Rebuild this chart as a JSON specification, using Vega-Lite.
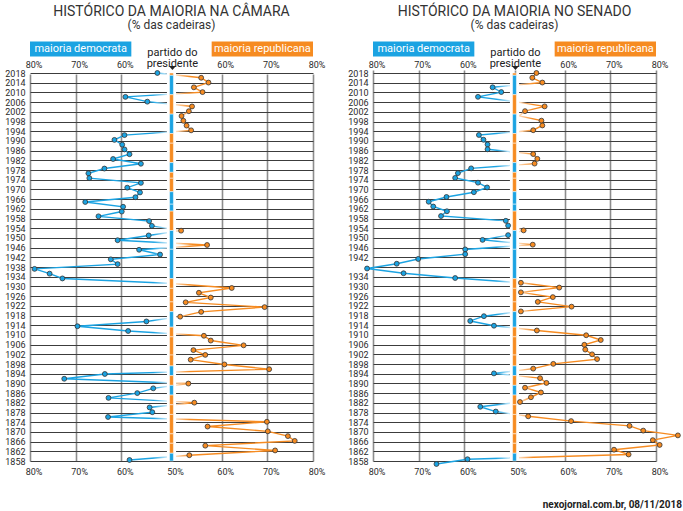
{
  "$schema": "https://vega.github.io/schema/vega-lite/v6.json",
  "padding": {"left": 4, "top": 5, "right": 2, "bottom": 2},
  "datasets": {
    "camara": [
      {"ano": 2018, "partido": "D", "pct": 52.1}, {"ano": 2016, "partido": "R", "pct": 55.5},
      {"ano": 2014, "partido": "R", "pct": 57.1}, {"ano": 2012, "partido": "R", "pct": 53.9},
      {"ano": 2010, "partido": "R", "pct": 55.8}, {"ano": 2008, "partido": "D", "pct": 59.1},
      {"ano": 2006, "partido": "D", "pct": 54.3}, {"ano": 2004, "partido": "R", "pct": 53.5},
      {"ano": 2002, "partido": "R", "pct": 52.8}, {"ano": 2000, "partido": "R", "pct": 51.2},
      {"ano": 1998, "partido": "R", "pct": 51.6}, {"ano": 1996, "partido": "R", "pct": 52.3},
      {"ano": 1994, "partido": "R", "pct": 53.3}, {"ano": 1992, "partido": "D", "pct": 59.3},
      {"ano": 1990, "partido": "D", "pct": 61.5}, {"ano": 1988, "partido": "D", "pct": 59.8},
      {"ano": 1986, "partido": "D", "pct": 59.3}, {"ano": 1984, "partido": "D", "pct": 58.2},
      {"ano": 1982, "partido": "D", "pct": 61.8}, {"ano": 1980, "partido": "D", "pct": 55.7},
      {"ano": 1978, "partido": "D", "pct": 63.7}, {"ano": 1976, "partido": "D", "pct": 67.2},
      {"ano": 1974, "partido": "D", "pct": 67.0}, {"ano": 1972, "partido": "D", "pct": 55.7},
      {"ano": 1970, "partido": "D", "pct": 58.7}, {"ano": 1968, "partido": "D", "pct": 55.9},
      {"ano": 1966, "partido": "D", "pct": 56.9}, {"ano": 1964, "partido": "D", "pct": 67.9},
      {"ano": 1962, "partido": "D", "pct": 59.6}, {"ano": 1960, "partido": "D", "pct": 59.9},
      {"ano": 1958, "partido": "D", "pct": 65.0}, {"ano": 1956, "partido": "D", "pct": 53.9},
      {"ano": 1954, "partido": "D", "pct": 53.3}, {"ano": 1952, "partido": "R", "pct": 51.1},
      {"ano": 1950, "partido": "D", "pct": 54.0}, {"ano": 1948, "partido": "D", "pct": 60.8},
      {"ano": 1946, "partido": "R", "pct": 56.8}, {"ano": 1944, "partido": "D", "pct": 56.1},
      {"ano": 1942, "partido": "D", "pct": 51.5}, {"ano": 1940, "partido": "D", "pct": 62.3},
      {"ano": 1938, "partido": "D", "pct": 60.8}, {"ano": 1936, "partido": "D", "pct": 79.0},
      {"ano": 1934, "partido": "D", "pct": 75.7}, {"ano": 1932, "partido": "D", "pct": 72.9},
      {"ano": 1930, "partido": "D", "pct": 49.9}, {"ano": 1928, "partido": "R", "pct": 62.2},
      {"ano": 1926, "partido": "R", "pct": 55.0}, {"ano": 1924, "partido": "R", "pct": 57.6},
      {"ano": 1922, "partido": "R", "pct": 52.1}, {"ano": 1920, "partido": "R", "pct": 69.4},
      {"ano": 1918, "partido": "R", "pct": 55.5}, {"ano": 1916, "partido": "R", "pct": 50.9},
      {"ano": 1914, "partido": "D", "pct": 54.5}, {"ano": 1912, "partido": "D", "pct": 69.6},
      {"ano": 1910, "partido": "D", "pct": 58.5}, {"ano": 1908, "partido": "R", "pct": 56.1},
      {"ano": 1906, "partido": "R", "pct": 57.6}, {"ano": 1904, "partido": "R", "pct": 64.8},
      {"ano": 1902, "partido": "R", "pct": 53.8}, {"ano": 1900, "partido": "R", "pct": 56.4},
      {"ano": 1898, "partido": "R", "pct": 53.2}, {"ano": 1896, "partido": "R", "pct": 60.6},
      {"ano": 1894, "partido": "R", "pct": 70.4}, {"ano": 1892, "partido": "D", "pct": 63.6},
      {"ano": 1890, "partido": "D", "pct": 72.5}, {"ano": 1888, "partido": "R", "pct": 52.7},
      {"ano": 1886, "partido": "D", "pct": 53.0}, {"ano": 1884, "partido": "D", "pct": 56.5},
      {"ano": 1882, "partido": "D", "pct": 62.8}, {"ano": 1880, "partido": "R", "pct": 54.0},
      {"ano": 1878, "partido": "D", "pct": 53.8}, {"ano": 1876, "partido": "D", "pct": 53.2},
      {"ano": 1874, "partido": "D", "pct": 62.9}, {"ano": 1872, "partido": "R", "pct": 69.9},
      {"ano": 1870, "partido": "R", "pct": 56.9}, {"ano": 1868, "partido": "R", "pct": 70.1},
      {"ano": 1866, "partido": "R", "pct": 74.5}, {"ano": 1864, "partido": "R", "pct": 76.0},
      {"ano": 1862, "partido": "R", "pct": 56.4}, {"ano": 1860, "partido": "R", "pct": 71.7},
      {"ano": 1858, "partido": "R", "pct": 52.9}, {"ano": 1856, "partido": "D", "pct": 58.2}
    ],
    "senado": [
      {"ano": 2018, "partido": "R", "pct": 53.8}, {"ano": 2016, "partido": "R", "pct": 52.9},
      {"ano": 2014, "partido": "R", "pct": 55.1}, {"ano": 2012, "partido": "D", "pct": 53.8},
      {"ano": 2010, "partido": "D", "pct": 51.9}, {"ano": 2008, "partido": "D", "pct": 57.0},
      {"ano": 2006, "partido": "D", "pct": 49.0}, {"ano": 2004, "partido": "R", "pct": 55.6},
      {"ano": 2002, "partido": "R", "pct": 51.3}, {"ano": 2000, "partido": "R", "pct": 50.0},
      {"ano": 1998, "partido": "R", "pct": 54.9}, {"ano": 1996, "partido": "R", "pct": 55.1},
      {"ano": 1994, "partido": "R", "pct": 53.1}, {"ano": 1992, "partido": "D", "pct": 56.8},
      {"ano": 1990, "partido": "D", "pct": 55.8}, {"ano": 1988, "partido": "D", "pct": 54.9},
      {"ano": 1986, "partido": "D", "pct": 54.9}, {"ano": 1984, "partido": "R", "pct": 53.1},
      {"ano": 1982, "partido": "R", "pct": 54.0}, {"ano": 1980, "partido": "R", "pct": 53.4},
      {"ano": 1978, "partido": "D", "pct": 58.5}, {"ano": 1976, "partido": "D", "pct": 61.4},
      {"ano": 1974, "partido": "D", "pct": 62.0}, {"ano": 1972, "partido": "D", "pct": 57.0},
      {"ano": 1970, "partido": "D", "pct": 55.0}, {"ano": 1968, "partido": "D", "pct": 57.9},
      {"ano": 1966, "partido": "D", "pct": 63.9}, {"ano": 1964, "partido": "D", "pct": 67.8},
      {"ano": 1962, "partido": "D", "pct": 66.8}, {"ano": 1960, "partido": "D", "pct": 63.8},
      {"ano": 1958, "partido": "D", "pct": 65.1}, {"ano": 1956, "partido": "D", "pct": 50.9},
      {"ano": 1954, "partido": "D", "pct": 50.4}, {"ano": 1952, "partido": "R", "pct": 51.0},
      {"ano": 1950, "partido": "D", "pct": 50.4}, {"ano": 1948, "partido": "D", "pct": 56.0},
      {"ano": 1946, "partido": "R", "pct": 53.0}, {"ano": 1944, "partido": "D", "pct": 59.8},
      {"ano": 1942, "partido": "D", "pct": 59.8}, {"ano": 1940, "partido": "D", "pct": 70.1},
      {"ano": 1938, "partido": "D", "pct": 74.8}, {"ano": 1936, "partido": "D", "pct": 81.3},
      {"ano": 1934, "partido": "D", "pct": 73.3}, {"ano": 1932, "partido": "D", "pct": 62.0},
      {"ano": 1930, "partido": "R", "pct": 50.4}, {"ano": 1928, "partido": "R", "pct": 58.8},
      {"ano": 1926, "partido": "R", "pct": 50.4}, {"ano": 1924, "partido": "R", "pct": 57.4},
      {"ano": 1922, "partido": "R", "pct": 54.1}, {"ano": 1920, "partido": "R", "pct": 61.5},
      {"ano": 1918, "partido": "R", "pct": 50.4}, {"ano": 1916, "partido": "D", "pct": 55.7},
      {"ano": 1914, "partido": "D", "pct": 58.7}, {"ano": 1912, "partido": "D", "pct": 53.5},
      {"ano": 1910, "partido": "R", "pct": 53.9}, {"ano": 1908, "partido": "R", "pct": 64.7},
      {"ano": 1906, "partido": "R", "pct": 67.9}, {"ano": 1904, "partido": "R", "pct": 64.3},
      {"ano": 1902, "partido": "R", "pct": 64.5}, {"ano": 1900, "partido": "R", "pct": 66.0},
      {"ano": 1898, "partido": "R", "pct": 67.1}, {"ano": 1896, "partido": "R", "pct": 57.5},
      {"ano": 1894, "partido": "R", "pct": 53.1}, {"ano": 1892, "partido": "D", "pct": 53.5},
      {"ano": 1890, "partido": "R", "pct": 54.6}, {"ano": 1888, "partido": "R", "pct": 56.0},
      {"ano": 1886, "partido": "R", "pct": 51.3}, {"ano": 1884, "partido": "R", "pct": 54.8},
      {"ano": 1882, "partido": "R", "pct": 52.6}, {"ano": 1880, "partido": "R", "pct": 50.2},
      {"ano": 1878, "partido": "D", "pct": 56.5}, {"ano": 1877, "partido": "D", "pct": 53.1},
      {"ano": 1876, "partido": "R", "pct": 52.0}, {"ano": 1874, "partido": "R", "pct": 61.4},
      {"ano": 1872, "partido": "R", "pct": 74.2}, {"ano": 1870, "partido": "R", "pct": 77.2},
      {"ano": 1868, "partido": "R", "pct": 84.8}, {"ano": 1866, "partido": "R", "pct": 79.3},
      {"ano": 1864, "partido": "R", "pct": 80.8}, {"ano": 1862, "partido": "R", "pct": 70.8},
      {"ano": 1860, "partido": "R", "pct": 74.0}, {"ano": 1858, "partido": "D", "pct": 59.3},
      {"ano": 1856, "partido": "D", "pct": 66.1}
    ],
    "presidentes": [
      {"presidente": "Trump", "partido": "R", "inicio": 2017.05, "fim": 2018},
      {"presidente": "Obama", "partido": "D", "inicio": 2009.05, "fim": 2017.05},
      {"presidente": "G. W. Bush", "partido": "R", "inicio": 2001.05, "fim": 2009.05},
      {"presidente": "Clinton", "partido": "D", "inicio": 1993.05, "fim": 2001.05},
      {"presidente": "G. H. W. Bush", "partido": "R", "inicio": 1989.05, "fim": 1993.05},
      {"presidente": "Reagan", "partido": "R", "inicio": 1981.05, "fim": 1989.05},
      {"presidente": "Carter", "partido": "D", "inicio": 1977.05, "fim": 1981.05},
      {"presidente": "Ford", "partido": "R", "inicio": 1974.6, "fim": 1977.05},
      {"presidente": "Nixon", "partido": "R", "inicio": 1969.05, "fim": 1974.6},
      {"presidente": "L. B. Johnson", "partido": "D", "inicio": 1963.9, "fim": 1969.05},
      {"presidente": "Kennedy", "partido": "D", "inicio": 1961.05, "fim": 1963.9},
      {"presidente": "Eisenhower", "partido": "R", "inicio": 1953.05, "fim": 1961.05},
      {"presidente": "Truman", "partido": "D", "inicio": 1945.3, "fim": 1953.05},
      {"presidente": "F. D. Roosevelt", "partido": "D", "inicio": 1933.2, "fim": 1945.3},
      {"presidente": "Hoover", "partido": "R", "inicio": 1929.2, "fim": 1933.2},
      {"presidente": "Coolidge", "partido": "R", "inicio": 1923.6, "fim": 1929.2},
      {"presidente": "Harding", "partido": "R", "inicio": 1919.6, "fim": 1923.6},
      {"presidente": "Wilson", "partido": "D", "inicio": 1913.2, "fim": 1919.6},
      {"presidente": "Taft", "partido": "R", "inicio": 1909.2, "fim": 1913.2},
      {"presidente": "T. Roosevelt", "partido": "R", "inicio": 1901.7, "fim": 1909.2},
      {"presidente": "McKinley", "partido": "R", "inicio": 1897.2, "fim": 1901.7},
      {"presidente": "Cleveland", "partido": "D", "inicio": 1893.2, "fim": 1897.2},
      {"presidente": "B. Harrison", "partido": "R", "inicio": 1889.2, "fim": 1893.2},
      {"presidente": "Cleveland", "partido": "D", "inicio": 1885.2, "fim": 1889.2},
      {"presidente": "Garfield / Arthur", "partido": "R", "inicio": 1881.2, "fim": 1885.2},
      {"presidente": "Hayes", "partido": "R", "inicio": 1877.2, "fim": 1881.2},
      {"presidente": "Grant", "partido": "R", "inicio": 1869.2, "fim": 1877.2},
      {"presidente": "A. Johnson", "partido": "R", "inicio": 1865.3, "fim": 1869.2},
      {"presidente": "Lincoln", "partido": "R", "inicio": 1861.2, "fim": 1865.3},
      {"presidente": "Buchanan", "partido": "D", "inicio": 1858, "fim": 1861.2}
    ],
    "um": [{}]
  },
  "title": {
    "text": "nexojornal.com.br, 08/11/2018",
    "orient": "bottom", "anchor": "end", "frame": "bounds",
    "fontSize": 10, "fontWeight": "bold", "color": "#222", "offset": 24
  },
  "spacing": 60,
  "bounds": "flush",
  "resolve": {"scale": {"x": "independent", "y": "independent"}},
  "hconcat": [
    {
      "width": 283,
      "height": 388,
      "title": {"text": "HISTÓRICO DA MAIORIA NA CÂMARA", "subtitle": "(% das cadeiras)"},
      "resolve": {"scale": {"y": "independent"}, "axis": {"x": "independent", "y": "independent"}},
      "layer": [
        {
          "data": {"name": "camara"},
          "transform": [{"calculate": "datum.partido == 'D' ? 49 - datum.pct : (datum.partido == 'R' ? datum.pct - 49 : 0)", "as": "pos"}],
          "mark": {
            "type": "line", "strokeWidth": 1.4,
            "stroke": {
              "gradient": "linear", "x1": 0, "x2": 1, "y1": 0, "y2": 0,
              "stops": [
                {"offset": 0, "color": "#1ba3e2"}, {"offset": 0.4561, "color": "#1ba3e2"},
                {"offset": 0.5088, "color": "#c4e7f8"}, {"offset": 0.5263, "color": "#ffffff"},
                {"offset": 0.5439, "color": "#fddcbd"}, {"offset": 0.5965, "color": "#f68b21"},
                {"offset": 1, "color": "#f68b21"}
              ]
            }
          },
          "encoding": {
            "x": {
              "field": "pos", "type": "quantitative",
              "scale": {"domain": [-31, 31], "nice": false, "zero": false},
              "axis": {
                "orient": "bottom", "title": null, "values": [-31, -21, -11, 0, 11, 21, 31],
                "labelExpr": "datum.value == 0 ? '50%' : (abs(datum.value) + 49) + '%'",
                "grid": true, "gridColor": "#8c8c8c", "gridWidth": 1.6,
                "domain": false, "ticks": false, "labelPadding": 6, "labelOffset": 3.5, "labelFlush": false
              }
            },
            "y": {"field": "ano", "type": "ordinal", "sort": "descending", "scale": {"type": "point", "padding": 0, "range": [0, 387]}, "axis": null},
            "order": {"field": "ano", "type": "quantitative"}
          }
        },
        {
          "data": {"name": "um"},
          "mark": {"type": "rect", "color": "#ffffff"},
          "encoding": {
            "x": {"datum": -1, "type": "quantitative", "scale": {"domain": [-31, 31], "nice": false, "zero": false}, "axis": null},
            "x2": {"datum": 1}
          }
        },
        {
          "data": {"name": "presidentes"},
          "mark": {"type": "rect", "stroke": "#ffffff", "strokeWidth": 0.5},
          "encoding": {
            "x": {"datum": -0.42, "type": "quantitative", "scale": {"domain": [-31, 31], "nice": false, "zero": false}, "axis": null},
            "x2": {"datum": 0.42},
            "y": {
              "field": "inicio", "type": "quantitative",
              "scale": {"domain": [1858, 2018], "nice": false, "zero": false},
              "axis": {
                "orient": "left", "title": null,
                "values": [2018, 2014, 2010, 2006, 2002, 1998, 1994, 1990, 1986, 1982, 1978, 1974, 1970, 1966, 1962, 1958, 1954, 1950, 1946, 1942, 1938, 1934, 1930, 1926, 1922, 1918, 1914, 1910, 1906, 1902, 1898, 1894, 1890, 1886, 1882, 1878, 1874, 1870, 1866, 1862, 1858],
                "format": "d", "grid": true, "gridColor": "#3c3c3c", "gridWidth": 1,
                "domain": false, "ticks": false, "labelPadding": 5, "labelOverlap": false
              }
            },
            "y2": {"field": "fim"},
            "color": {"field": "partido", "type": "nominal", "scale": {"domain": ["D", "R"], "range": ["#1ba3e2", "#f68b21"]}, "legend": null}
          }
        },
        {
          "data": {"name": "camara"},
          "transform": [{"calculate": "datum.partido == 'D' ? 49 - datum.pct : (datum.partido == 'R' ? datum.pct - 49 : 0)", "as": "pos"}],
          "mark": {"type": "circle", "size": 24, "stroke": "#333333", "strokeWidth": 0.8},
          "encoding": {
            "x": {
              "field": "pos", "type": "quantitative",
              "scale": {"domain": [-31, 31], "nice": false, "zero": false},
              "axis": {
                "orient": "top", "title": null, "values": [-31, -21, -11, 11, 21, 31],
                "labelExpr": "(abs(datum.value) + 49) + '%'",
                "grid": false, "domain": false, "ticks": false, "labelPadding": 4, "labelOffset": 3.5, "labelFlush": false
              }
            },
            "y": {"field": "ano", "type": "ordinal", "sort": "descending", "scale": {"type": "point", "padding": 0, "range": [0, 387]}, "axis": null},
            "color": {"field": "partido", "type": "nominal", "scale": {"domain": ["D", "R"], "range": ["#1ba3e2", "#f68b21"]}, "legend": null},
            "opacity": {"condition": {"test": "datum.pct > 50", "value": 1}, "value": 0}
          }
        },
        {
          "data": {"name": "um"},
          "mark": {"type": "rect", "color": "#1ba3e2"},
          "encoding": {
            "x": {"datum": -31, "type": "quantitative", "scale": {"domain": [-31, 31], "nice": false, "zero": false}, "axis": null},
            "x2": {"datum": -8.8},
            "y": {"datum": 2031.0, "type": "quantitative", "scale": {"domain": [1858, 2018], "nice": false, "zero": false}, "axis": null},
            "y2": {"datum": 2024.85}
          }
        },
        {
          "data": {"name": "um"},
          "mark": {"type": "text", "color": "#ffffff", "fontSize": 11, "baseline": "middle", "align": "center"},
          "encoding": {
            "x": {"datum": -19.9, "type": "quantitative", "scale": {"domain": [-31, 31], "nice": false, "zero": false}, "axis": null},
            "y": {"datum": 2027.95, "type": "quantitative", "scale": {"domain": [1858, 2018], "nice": false, "zero": false}, "axis": null},
            "text": {"value": "maioria democrata"}
          }
        },
        {
          "data": {"name": "um"},
          "mark": {"type": "rect", "color": "#f68b21"},
          "encoding": {
            "x": {"datum": 8.8, "type": "quantitative", "scale": {"domain": [-31, 31], "nice": false, "zero": false}, "axis": null},
            "x2": {"datum": 31},
            "y": {"datum": 2031.0, "type": "quantitative", "scale": {"domain": [1858, 2018], "nice": false, "zero": false}, "axis": null},
            "y2": {"datum": 2024.85}
          }
        },
        {
          "data": {"name": "um"},
          "mark": {"type": "text", "color": "#ffffff", "fontSize": 11, "baseline": "middle", "align": "center"},
          "encoding": {
            "x": {"datum": 19.9, "type": "quantitative", "scale": {"domain": [-31, 31], "nice": false, "zero": false}, "axis": null},
            "y": {"datum": 2027.95, "type": "quantitative", "scale": {"domain": [1858, 2018], "nice": false, "zero": false}, "axis": null},
            "text": {"value": "maioria republicana"}
          }
        },
        {
          "data": {"name": "um"},
          "mark": {"type": "text", "color": "#222222", "fontSize": 11, "baseline": "middle", "align": "center", "lineHeight": 11.5},
          "encoding": {
            "x": {"datum": 0.2, "type": "quantitative", "scale": {"domain": [-31, 31], "nice": false, "zero": false}, "axis": null},
            "y": {"datum": 2026.4, "type": "quantitative", "scale": {"domain": [1858, 2018], "nice": false, "zero": false}, "axis": null},
            "text": {"value": ["partido do", "presidente"]}
          }
        },
        {
          "data": {"name": "um"},
          "mark": {"type": "point", "shape": "M-1,-0.6L1,-0.6L0,0.6Z", "filled": true, "color": "#222222", "size": 49, "opacity": 1},
          "encoding": {
            "x": {"datum": 0.2, "type": "quantitative", "scale": {"domain": [-31, 31], "nice": false, "zero": false}, "axis": null},
            "y": {"datum": 2020.06, "type": "quantitative", "scale": {"domain": [1858, 2018], "nice": false, "zero": false}, "axis": null}
          }
        }
      ]
    },
    {
      "width": 283,
      "height": 388,
      "title": {"text": "HISTÓRICO DA MAIORIA NO SENADO", "subtitle": "(% das cadeiras)"},
      "resolve": {"scale": {"y": "independent"}, "axis": {"x": "independent", "y": "independent"}},
      "layer": [
        {
          "data": {"name": "senado"},
          "transform": [{"calculate": "datum.partido == 'D' ? 49 - datum.pct : (datum.partido == 'R' ? datum.pct - 49 : 0)", "as": "pos"}],
          "mark": {
            "type": "line", "strokeWidth": 1.4,
            "stroke": {
              "gradient": "linear", "x1": 0, "x2": 1, "y1": 0, "y2": 0,
              "stops": [
                {"offset": 0, "color": "#1ba3e2"}, {"offset": 0.4156, "color": "#1ba3e2"},
                {"offset": 0.4596, "color": "#c4e7f8"}, {"offset": 0.4743, "color": "#ffffff"},
                {"offset": 0.4890, "color": "#fddcbd"}, {"offset": 0.5330, "color": "#f68b21"},
                {"offset": 1, "color": "#f68b21"}
              ]
            }
          },
          "encoding": {
            "x": {
              "field": "pos", "type": "quantitative",
              "scale": {"domain": [-31, 31], "nice": false, "zero": false},
              "axis": {
                "orient": "bottom", "title": null, "values": [-31, -21, -11, 0, 11, 21, 31],
                "labelExpr": "datum.value == 0 ? '50%' : (abs(datum.value) + 49) + '%'",
                "grid": true, "gridColor": "#8c8c8c", "gridWidth": 1.6,
                "domain": false, "ticks": false, "labelPadding": 6, "labelOffset": 3.5, "labelFlush": false
              }
            },
            "y": {"field": "ano", "type": "ordinal", "sort": "descending", "scale": {"type": "point", "padding": 0, "range": [0, 391]}, "axis": null},
            "order": {"field": "ano", "type": "quantitative"}
          }
        },
        {
          "data": {"name": "um"},
          "mark": {"type": "rect", "color": "#ffffff"},
          "encoding": {
            "x": {"datum": -1, "type": "quantitative", "scale": {"domain": [-31, 31], "nice": false, "zero": false}, "axis": null},
            "x2": {"datum": 1}
          }
        },
        {
          "data": {"name": "presidentes"},
          "mark": {"type": "rect", "stroke": "#ffffff", "strokeWidth": 0.5},
          "encoding": {
            "x": {"datum": -0.42, "type": "quantitative", "scale": {"domain": [-31, 31], "nice": false, "zero": false}, "axis": null},
            "x2": {"datum": 0.42},
            "y": {
              "field": "inicio", "type": "quantitative",
              "scale": {"domain": [1858, 2018], "nice": false, "zero": false},
              "axis": {
                "orient": "left", "title": null,
                "values": [2018, 2014, 2010, 2006, 2002, 1998, 1994, 1990, 1986, 1982, 1978, 1974, 1970, 1966, 1962, 1958, 1954, 1950, 1946, 1942, 1938, 1934, 1930, 1926, 1922, 1918, 1914, 1910, 1906, 1902, 1898, 1894, 1890, 1886, 1882, 1878, 1874, 1870, 1866, 1862, 1858],
                "labelExpr": "datum.value == 1938 ? '' : datum.label",
                "format": "d", "grid": true, "gridColor": "#3c3c3c", "gridWidth": 1,
                "domain": false, "ticks": false, "labelPadding": 5, "labelOverlap": false
              }
            },
            "y2": {"field": "fim"},
            "color": {"field": "partido", "type": "nominal", "scale": {"domain": ["D", "R"], "range": ["#1ba3e2", "#f68b21"]}, "legend": null}
          }
        },
        {
          "data": {"name": "senado"},
          "transform": [{"calculate": "datum.partido == 'D' ? 49 - datum.pct : (datum.partido == 'R' ? datum.pct - 49 : 0)", "as": "pos"}],
          "mark": {"type": "circle", "size": 24, "stroke": "#333333", "strokeWidth": 0.8},
          "encoding": {
            "x": {
              "field": "pos", "type": "quantitative",
              "scale": {"domain": [-31, 31], "nice": false, "zero": false},
              "axis": {
                "orient": "top", "title": null, "values": [-31, -21, -11, 11, 21, 31],
                "labelExpr": "(abs(datum.value) + 49) + '%'",
                "grid": false, "domain": false, "ticks": false, "labelPadding": 4, "labelOffset": 3.5, "labelFlush": false
              }
            },
            "y": {"field": "ano", "type": "ordinal", "sort": "descending", "scale": {"type": "point", "padding": 0, "range": [0, 391]}, "axis": null},
            "color": {"field": "partido", "type": "nominal", "scale": {"domain": ["D", "R"], "range": ["#1ba3e2", "#f68b21"]}, "legend": null},
            "opacity": {"condition": {"test": "datum.pct > 50", "value": 1}, "value": 0}
          }
        },
        {
          "data": {"name": "um"},
          "mark": {"type": "rect", "color": "#1ba3e2"},
          "encoding": {
            "x": {"datum": -31, "type": "quantitative", "scale": {"domain": [-31, 31], "nice": false, "zero": false}, "axis": null},
            "x2": {"datum": -8.8},
            "y": {"datum": 2031.0, "type": "quantitative", "scale": {"domain": [1858, 2018], "nice": false, "zero": false}, "axis": null},
            "y2": {"datum": 2024.85}
          }
        },
        {
          "data": {"name": "um"},
          "mark": {"type": "text", "color": "#ffffff", "fontSize": 11, "baseline": "middle", "align": "center"},
          "encoding": {
            "x": {"datum": -19.9, "type": "quantitative", "scale": {"domain": [-31, 31], "nice": false, "zero": false}, "axis": null},
            "y": {"datum": 2027.95, "type": "quantitative", "scale": {"domain": [1858, 2018], "nice": false, "zero": false}, "axis": null},
            "text": {"value": "maioria democrata"}
          }
        },
        {
          "data": {"name": "um"},
          "mark": {"type": "rect", "color": "#f68b21"},
          "encoding": {
            "x": {"datum": 8.8, "type": "quantitative", "scale": {"domain": [-31, 31], "nice": false, "zero": false}, "axis": null},
            "x2": {"datum": 31},
            "y": {"datum": 2031.0, "type": "quantitative", "scale": {"domain": [1858, 2018], "nice": false, "zero": false}, "axis": null},
            "y2": {"datum": 2024.85}
          }
        },
        {
          "data": {"name": "um"},
          "mark": {"type": "text", "color": "#ffffff", "fontSize": 11, "baseline": "middle", "align": "center"},
          "encoding": {
            "x": {"datum": 19.9, "type": "quantitative", "scale": {"domain": [-31, 31], "nice": false, "zero": false}, "axis": null},
            "y": {"datum": 2027.95, "type": "quantitative", "scale": {"domain": [1858, 2018], "nice": false, "zero": false}, "axis": null},
            "text": {"value": "maioria republicana"}
          }
        },
        {
          "data": {"name": "um"},
          "mark": {"type": "text", "color": "#222222", "fontSize": 11, "baseline": "middle", "align": "center", "lineHeight": 11.5},
          "encoding": {
            "x": {"datum": 0.2, "type": "quantitative", "scale": {"domain": [-31, 31], "nice": false, "zero": false}, "axis": null},
            "y": {"datum": 2026.4, "type": "quantitative", "scale": {"domain": [1858, 2018], "nice": false, "zero": false}, "axis": null},
            "text": {"value": ["partido do", "presidente"]}
          }
        },
        {
          "data": {"name": "um"},
          "mark": {"type": "point", "shape": "M-1,-0.6L1,-0.6L0,0.6Z", "filled": true, "color": "#222222", "size": 49, "opacity": 1},
          "encoding": {
            "x": {"datum": 0.2, "type": "quantitative", "scale": {"domain": [-31, 31], "nice": false, "zero": false}, "axis": null},
            "y": {"datum": 2020.06, "type": "quantitative", "scale": {"domain": [1858, 2018], "nice": false, "zero": false}, "axis": null}
          }
        }
      ]
    }
  ],
  "config": {
    "view": {"stroke": null},
    "font": "Roboto",
    "axis": {"labelFont": "Roboto", "labelColor": "#2b2b2b", "labelFontSize": 9, "tickSize": 0},
    "title": {
      "font": "Roboto", "subtitleFont": "Roboto", "fontSize": 14, "fontWeight": "normal",
      "subtitleFontSize": 12, "color": "#333333", "subtitleColor": "#333333",
      "subtitlePadding": 1, "offset": 10, "anchor": "middle", "frame": "group"
    }
  }
}
